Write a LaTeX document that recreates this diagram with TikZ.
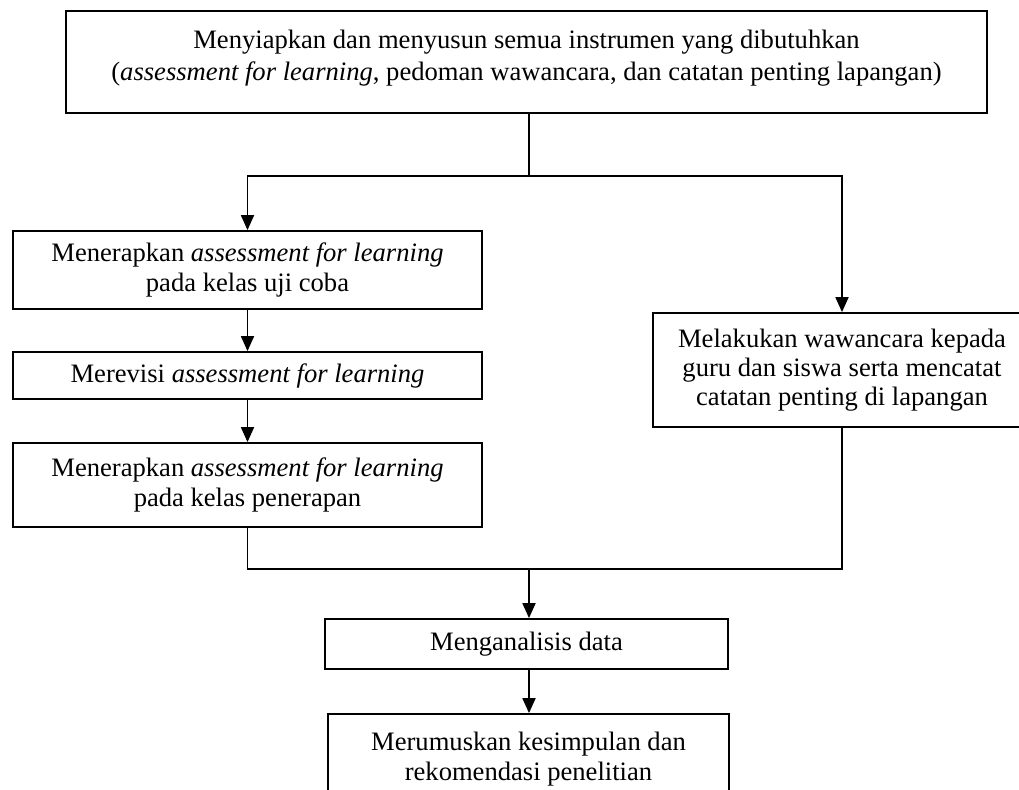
\documentclass[tikz,border=0pt]{standalone}
\usepackage{fontspec}
\setmainfont{Liberation Serif}
\usetikzlibrary{arrows.meta}
\begin{document}
\begin{tikzpicture}[x=0.5pt,y=-0.5pt,
  box/.style={draw,line width=0.9pt,inner sep=0pt,align=center,font=\fontsize{13.3}{14.6}\selectfont},
  link/.style={line width=0.9pt},
  arr/.style={link,-{Triangle[width=6.5pt,length=7.5pt]}}]
\useasboundingbox (0,0) rectangle (1019,789);
\node[box,minimum width=460.5pt,minimum height=51pt] (prep) at (526.5,62) {Menyiapkan dan menyusun semua instrumen yang dibutuhkan\\[1.4pt](\textit{assessment for learning}, pedoman wawancara, dan catatan penting lapangan)\\[-8pt]\mbox{}};
\node[box,minimum width=234.5pt,minimum height=39pt] (trial) at (247.5,270) {Menerapkan \textit{assessment for learning}\\pada kelas uji coba};
\node[box,minimum width=234.5pt,minimum height=23.5pt] (revise) at (247.5,375.5) {Merevisi \textit{assessment for learning}};
\node[box,minimum width=234.5pt,minimum height=42pt] (apply) at (247.5,485) {Menerapkan \textit{assessment for learning}\\pada kelas penerapan};
\node[box,minimum width=189pt,minimum height=57pt] (interview) at (842,370) {Melakukan wawancara kepada\\guru dan siswa serta mencatat\\catatan penting di lapangan};
\node[box,minimum width=201.5pt,minimum height=25pt] (analyse) at (526.5,644) {Menganalisis data};
\node[box,minimum width=200.5pt,minimum height=45pt] (conclude) at (528.5,759) {Merumuskan kesimpulan dan\\rekomendasi penelitian};
% branch and merge points
\coordinate (split) at (529,176);
\coordinate (merge) at (529,569);
\draw[link] (prep.south -| split) -- (split);
\draw[arr] (split) -| (trial.north);
\draw[arr] (split) -| (interview.north);
\draw[arr] (trial) -- (revise);
\draw[arr] (revise) -- (apply);
\draw[link] (apply.south) |- (merge) -| (interview.south);
\draw[arr] (merge) -- (merge |- analyse.north);
\draw[arr] (analyse.south -| merge) -- (conclude.north -| merge);
\end{tikzpicture}
\end{document}
